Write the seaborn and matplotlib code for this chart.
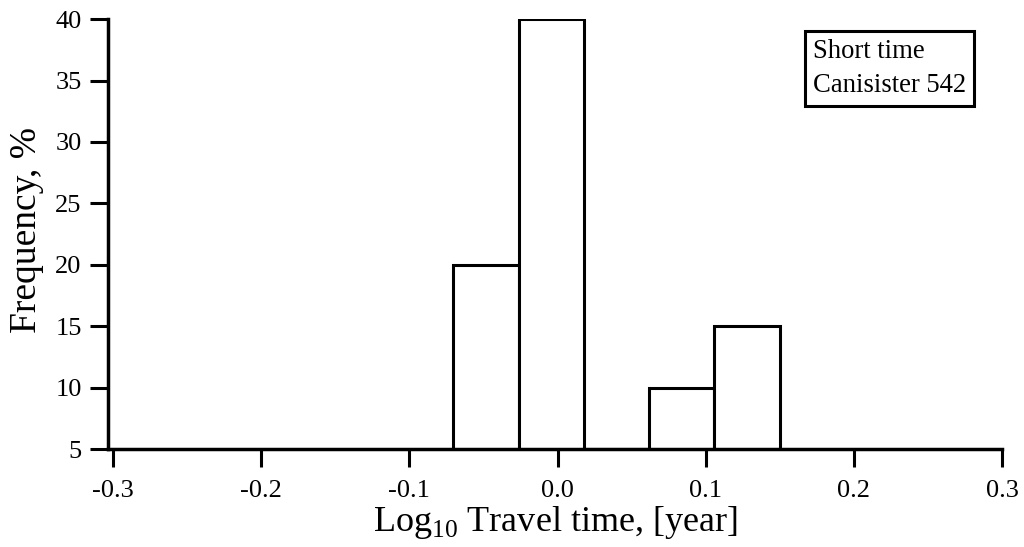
import matplotlib
matplotlib.use("Agg")
import matplotlib.pyplot as plt
import seaborn as sns
import numpy as np

# Histogram of log10 travel time (bin edges and frequency in % per bin)
bin_edges = [-0.0704, -0.0260, 0.0177, 0.0616, 0.1059, 0.1503]
frequency = [20, 40, 5, 10, 15]
x_ticks = [-0.3, -0.2, -0.1, 0.0, 0.1, 0.2, 0.3]
y_ticks = [5, 10, 15, 20, 25, 30, 35, 40]
legend_lines = ["Short time", "Canisister 542"]

sns.set_style("ticks")
plt.rcParams["font.family"] = ["Liberation Serif", "DejaVu Serif"]
plt.rcParams["mathtext.fontset"] = "custom"
plt.rcParams["mathtext.rm"] = "Liberation Serif"
plt.rcParams["axes.unicode_minus"] = False

fig = plt.figure(figsize=(10.24, 5.47), dpi=100)
ax = fig.add_axes([0.1055, 0.179, 0.873, 0.786])

centers = [(a + b) / 2 for a, b in zip(bin_edges[:-1], bin_edges[1:])]
sns.histplot(x=centers, weights=frequency, bins=bin_edges, ax=ax,
             stat="count", element="bars", color="white", alpha=1,
             edgecolor="black", linewidth=2.2)

ax.set_xlim(-0.3034, 0.3)
ax.set_ylim(5, 40)
ax.set_xticks(x_ticks)
ax.set_xticklabels([f"{t:.1f}" for t in x_ticks])
ax.set_yticks(y_ticks)
ax.set_yticklabels([str(t) for t in y_ticks])

for side in ["top", "right"]:
    ax.spines[side].set_visible(False)
for side in ["left", "bottom"]:
    ax.spines[side].set_linewidth(2.5)
    ax.spines[side].set_color("black")

ax.tick_params(axis="both", direction="out", length=13, width=2.2,
               color="black", labelsize=19, labelcolor="black")
ax.tick_params(axis="x", pad=9)
ax.tick_params(axis="y", pad=6)

ax.set_xlabel(r"Log$_{10}$ Travel time, [year]", fontsize=26, color="black")
ax.xaxis.set_label_coords(0.5, -0.128)
ax.set_ylabel("Frequency, %", fontsize=27, color="black")
ax.yaxis.set_label_coords(-0.072, 0.51)

ax.text(0.7886, 0.953, "\n".join(legend_lines), transform=ax.transAxes,
        ha="left", va="top", fontsize=19.2, linespacing=1.45, color="black",
        bbox=dict(boxstyle="square,pad=0.3", facecolor="white",
                  edgecolor="black", linewidth=2.2))

fig.savefig("out.png", dpi=100, facecolor="white")
